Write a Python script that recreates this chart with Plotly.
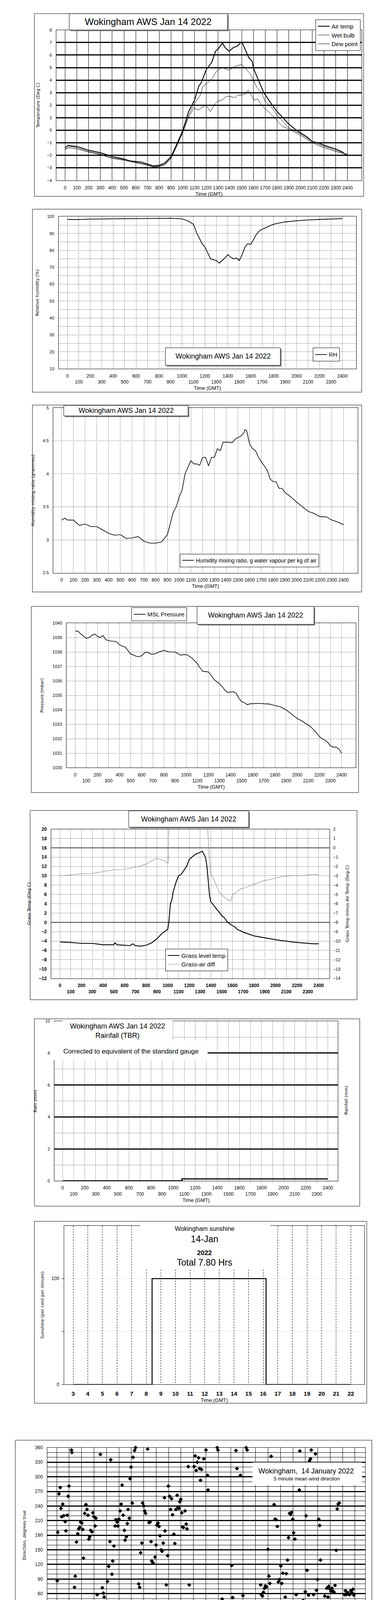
import plotly.graph_objects as go

# =========================== DATA ===========================
# Panel 1: temperatures (time in hours GMT -> deg C)
air_hours = [0.0, 0.25, 0.5, 1.0, 1.5, 2.0, 2.5, 3.0, 3.5, 4.0, 4.5, 5.0, 5.5, 6.0, 6.5, 7.0, 7.5, 8.0, 8.5, 9.0,
             9.3, 9.5, 10.0, 10.3, 10.5, 11.0, 11.35, 11.57, 12.0, 12.45, 12.78, 13.0, 13.37, 13.6, 13.94, 14.3, 14.6, 15.0, 15.23, 15.6,
             15.9, 16.0, 16.43, 16.88, 17.6, 18.0, 18.5, 19.0, 19.65, 20.0, 20.5, 21.0, 21.5, 22.0, 22.5, 23.0, 23.5, 23.9, 24.0]
air_temp = [-1.4, -1.2, -1.25, -1.3, -1.45, -1.6, -1.7, -1.8, -1.95, -2.1, -2.2, -2.3, -2.45, -2.5, -2.55, -2.7, -2.85, -2.8, -2.6, -2.1,
            -1.5, -1.1, 0.0, 0.9, 1.5, 2.4, 3.5, 3.8, 4.85, 5.4, 6.3, 6.5, 6.95, 6.6, 6.3, 6.6, 6.7, 7.05, 6.6, 5.8,
            5.5, 4.95, 4.0, 3.0, 2.0, 1.5, 1.0, 0.5, 0.0, -0.2, -0.5, -0.9, -1.0, -1.2, -1.35, -1.5, -1.7, -2.0, -1.9]
wet_hours = [0.0, 0.3, 1.0, 2.0, 3.0, 4.0, 5.0, 6.0, 7.0, 7.5, 8.0, 8.5, 9.0, 9.5, 10.0, 10.5, 10.96, 11.49, 11.7, 12.13,
             12.55, 12.78, 13.0, 13.35, 13.94, 14.45, 15.0, 15.3, 15.7, 16.0, 16.3, 16.7, 17.0, 17.5, 18.0, 18.5, 19.0, 20.0, 21.0, 22.0,
             23.0, 24.0]
wet_bulb = [-1.5, -1.3, -1.4, -1.7, -1.9, -2.2, -2.35, -2.55, -2.75, -2.9, -2.85, -2.7, -2.2, -1.2, -0.1, 1.2, 2.1, 2.8, 3.5, 3.8,
            4.2, 4.6, 4.8, 5.0, 4.8, 5.1, 5.25, 4.95, 4.55, 4.0, 3.4, 3.0, 2.3, 1.9, 1.2, 0.7, 0.2, -0.3, -0.9, -1.3,
            -1.6, -1.95]
dew_hours = [0.0, 0.3, 1.0, 2.0, 3.0, 4.0, 5.0, 6.0, 7.0, 7.5, 8.0, 8.5, 9.0, 9.5, 10.0, 10.47, 10.96, 11.28, 11.96, 12.34,
             12.66, 13.0, 13.36, 13.67, 13.95, 14.46, 14.65, 14.97, 15.31, 15.55, 15.83, 16.05, 16.37, 16.68, 17.0, 17.49, 18.0, 18.49, 19.0, 20.0,
             21.0, 22.0, 23.0, 24.0]
dew_point = [-1.55, -1.4, -1.5, -1.75, -1.95, -2.25, -2.4, -2.6, -2.8, -2.95, -2.9, -2.75, -2.25, -1.25, -0.2, 1.0, 1.8, 1.6, 2.0, 1.5,
             2.0, 2.35, 2.4, 2.7, 2.7, 2.6, 2.8, 2.8, 2.9, 3.2, 2.8, 2.4, 2.5, 2.0, 1.7, 1.3, 0.8, 0.3, 0.1, -0.4,
             -1.0, -1.4, -1.7, -1.95]

# Panel 2: relative humidity (%)
rh_hours = [0, 1, 2, 4, 6, 8, 9, 10, 10.5, 11, 11.3, 11.5, 11.75, 12, 12.25, 12.5, 12.75, 13, 13.25, 13.5,
            13.75, 14, 14.25, 14.5, 14.75, 15, 15.25, 15.5, 15.75, 16, 16.25, 16.5, 16.75, 17, 17.5, 18, 18.5, 19, 20, 21,
            22, 23, 24]
rh_values = [98.3, 98.2, 98.5, 98.7, 98.8, 98.9, 99.0, 98.6, 97.5, 95.5, 90, 87.5, 84, 82, 78.5, 75, 74.5, 74, 72.5, 74,
             75.5, 77.5, 76, 75, 75.5, 74, 77.5, 82, 84, 83.5, 86.5, 89.5, 91.5, 92.5, 94, 95.5, 96.2, 96.8, 97.5, 98,
             98.3, 98.5, 98.8]

# Panel 3: humidity mixing ratio (g/kg)
mix_hours = [0, 0.25, 0.5, 1, 1.5, 2, 2.5, 3, 3.5, 4, 4.5, 5, 5.5, 6, 6.5, 7, 7.5, 8, 8.5, 9,
             9.25, 9.5, 9.75, 10, 10.25, 10.5, 10.75, 11, 11.25, 11.5, 11.75, 12, 12.25, 12.5, 12.75, 13, 13.25, 13.5, 13.75, 14,
             14.25, 14.5, 14.75, 15, 15.25, 15.5, 15.6, 15.75, 16, 16.25, 16.5, 16.75, 17, 17.25, 17.5, 17.75, 18, 18.25, 18.5, 18.75,
             19, 19.5, 20, 20.5, 21, 21.5, 22, 22.5, 23, 23.5, 24]
mix_values = [3.3, 3.33, 3.3, 3.3, 3.22, 3.24, 3.2, 3.2, 3.15, 3.1, 3.07, 3.08, 3.02, 3.03, 3.05, 2.98, 2.95, 2.95, 2.97, 3.08,
              3.25, 3.42, 3.5, 3.65, 3.75, 4.0, 4.1, 4.2, 4.15, 4.15, 4.13, 4.25, 4.25, 4.12, 4.25, 4.25, 4.38, 4.35, 4.48, 4.48,
              4.48, 4.47, 4.52, 4.55, 4.57, 4.62, 4.67, 4.65, 4.45, 4.38, 4.35, 4.25, 4.18, 4.12, 4.05, 3.92, 3.88, 3.88, 3.78, 3.78,
              3.72, 3.65, 3.57, 3.5, 3.43, 3.4, 3.35, 3.35, 3.3, 3.27, 3.23]

# Panel 4: MSL pressure (mbar)
pres_hours = [0, 0.25, 0.5, 0.75, 1, 1.25, 1.5, 1.75, 2, 2.25, 2.5, 2.75, 3, 3.25, 3.5, 3.75, 4, 4.25, 4.5, 4.75,
              5, 5.25, 5.5, 5.75, 6, 6.25, 6.5, 6.75, 7, 7.25, 7.5, 7.75, 8, 8.25, 8.5, 8.75, 9, 9.25, 9.5, 9.75,
              10, 10.25, 10.5, 10.75, 11, 11.25, 11.5, 11.75, 12, 12.25, 12.5, 12.75, 13, 13.25, 13.5, 13.75, 14, 14.25, 14.5, 14.75,
              15, 15.25, 15.5, 15.75, 16, 16.5, 17, 17.5, 17.75, 18, 18.25, 18.5, 18.75, 19, 19.25, 19.5, 19.75, 20, 20.25, 20.5,
              20.75, 21, 21.25, 21.5, 21.75, 22, 22.25, 22.5, 22.75, 23, 23.25, 23.5, 23.75, 24]
pres_values = [1039.45, 1039.45, 1039.25, 1039.1, 1038.95, 1039.0, 1039.15, 1039.25, 1039.1, 1039.0,
               1039.15, 1038.85, 1038.8, 1038.75, 1038.75, 1038.7, 1038.5, 1038.4, 1038.35, 1038.1,
               1037.85, 1037.8, 1037.7, 1037.68, 1037.75, 1037.95, 1038.0, 1037.88, 1037.85, 1037.9,
               1038.0, 1038.05, 1038.12, 1038.05, 1038.0, 1038.0, 1038.0, 1037.9, 1037.78, 1037.82,
               1037.82, 1037.72, 1037.6, 1037.4, 1037.2, 1036.9, 1036.65, 1036.65, 1036.62, 1036.4,
               1036.1, 1035.95, 1035.8, 1035.6, 1035.35, 1035.2, 1035.22, 1035.25, 1035.15, 1034.8,
               1034.55, 1034.5, 1034.35, 1034.42, 1034.42, 1034.45, 1034.42, 1034.4, 1034.35, 1034.3,
               1034.25, 1034.2, 1034.1, 1034.0, 1033.85, 1033.7, 1033.55, 1033.4, 1033.3, 1033.2,
               1033.05, 1032.95, 1032.8, 1032.6, 1032.4, 1032.15, 1032.0, 1031.9, 1031.75, 1031.5,
               1031.42, 1031.42, 1031.3, 1031.0]

# Panel 5: grass temperature and grass-air difference (deg C)
grass_hours = [0, 1, 2, 3, 4, 5, 5.1, 5.3, 6, 6.5, 6.75, 7, 7.5, 8, 8.5, 9, 9.5, 9.75, 10, 10.1,
               10.25, 10.4, 10.5, 10.75, 11, 11.25, 11.5, 11.75, 12, 12.25, 12.5, 12.75, 13, 13.2, 13.4, 13.5, 13.64, 13.75, 13.87, 13.98,
               14.25, 14.5, 14.75, 15, 15.25, 15.5, 15.75, 16, 16.25, 16.5, 16.75, 17, 17.5, 18, 18.5, 19, 19.5, 20, 20.5, 21,
               21.5, 22, 22.5, 23, 23.5, 24]
grass_temp = [-4.2, -4.3, -4.5, -4.5, -4.8, -4.8, -4.4, -4.8, -4.9, -5.0, -4.6, -5.0, -5.1, -4.9, -4.4, -3.5, -2.3, -1.9, -1.5, 0.0,
              4.0, 5.0, 6.5, 8.5, 10.0, 10.3, 11.2, 12.0, 13.5, 14.0, 14.5, 14.8, 15.0, 15.3, 14.5, 14.0, 12.0, 9.0, 6.0, 4.5,
              3.7, 3.0, 2.2, 1.5, 1.0, 0.2, -0.3, -0.7, -1.0, -1.6, -1.8, -2.1, -2.5, -2.9, -3.1, -3.3, -3.5, -3.7, -3.9, -4.0,
              -4.2, -4.3, -4.4, -4.5, -4.6, -4.6]
diff_hours = [0, 1, 2, 3, 4, 5, 5.5, 6, 6.5, 7, 7.5, 8, 8.5, 9, 9.5, 9.75, 10, 10.05, 10.15, 11,
              12, 13, 13.6, 13.71, 13.85, 13.98, 14.25, 14.5, 14.75, 15, 15.25, 15.5, 15.75, 15.9, 16, 16.25, 16.5, 16.75, 17, 17.5,
              18, 18.5, 19, 19.5, 20, 20.5, 21, 21.5, 22, 22.5, 23, 23.5, 24]
grass_air_diff = [-3.0, -2.9, -2.8, -2.75, -2.55, -2.35, -2.35, -2.3, -2.2, -2.05, -1.95, -1.75, -1.4, -1.15, -1.3, -1.4, -1.7, -1.5, 6.0, 8.0,
                  8.5, 8.5, 6.0, 2.0, -1.0, -2.7, -3.3, -4.0, -4.7, -5.0, -5.3, -5.5, -5.7, -5.6, -5.0, -4.9, -4.6, -4.4, -4.35, -4.1,
                  -3.9, -3.7, -3.5, -3.4, -3.25, -3.1, -3.05, -3.0, -3.0, -3.0, -2.9, -2.85, -2.9]

# Panel 6: rainfall (mm)
rain_hours = [0.0, 10.8, 24.0]
rain_mm = [0.0, 0.12, 0.12]

# Panel 7: sunshine (per cent per minute)
sun_hours = [3.0, 8.4, 16.2, 22.0]
sun_pct = [0, 100, 0, 0]

# Panel 8: 5 minute mean wind direction (hour GMT, degrees true)
dir_points = [
    (0.04, 86.5), (0.08, 186), (0.18, 265), (0.28, 278), (0.34, 235), (0.40, 218), (0.48, 244), (0.56, 220), (0.68, 208), (0.74, 189),
    (0.84, 221), (0.92, 260), (0.98, 281), (1.08, 8), (1.18, 355), (1.22, 350), (1.35, 23), (1.43, 73), (1.49, 96), (1.59, 166),
    (1.69, 183), (1.77, 193), (1.85, 196), (1.93, 207), (2.01, 205), (2.09, 192), (2.15, 133), (2.25, 225), (2.35, 243), (2.43, 233),
    (2.51, 221), (2.59, 172), (2.65, 177), (2.73, 190), (2.83, 187), (2.91, 226), (2.99, 218), (3.09, 199), (3.15, 215), (3.25, 58),
    (3.33, 17), (3.41, 21), (3.51, 346), (3.59, 36), (3.67, 72), (3.75, 61), (3.82, 53), (3.92, 18), (4.00, 44), (4.08, 85),
    (4.18, 116), (4.28, 167), (4.34, 335), (4.44, 100), (4.50, 127), (4.60, 158), (4.70, 199), (4.76, 212), (4.86, 207), (4.92, 199),
    (5.00, 213), (5.10, 230), (5.18, 244), (5.26, 283), (5.34, 221), (5.44, 190), (5.50, 170), (5.60, 177), (5.68, 204), (5.74, 233),
    (5.84, 215), (5.90, 296), (5.98, 320), (6.08, 246), (6.14, 340), (6.26, 354), (6.34, 360), (6.43, 20), (6.51, 37), (6.59, 80),
    (6.67, 73), (6.75, 144), (6.85, 164), (6.91, 246), (7.01, 240), (7.07, 230), (7.15, 225), (7.27, 5), (7.31, 357), (7.43, 206),
    (7.51, 207), (7.59, 167), (7.65, 127), (7.75, 123), (7.77, 44), (7.91, 135), (7.99, 160), (8.07, 201), (8.15, 205), (8.23, 198),
    (8.31, 179), (8.41, 150), (8.47, 147), (8.57, 164), (8.67, 257), (8.71, 189), (8.82, 78), (8.92, 138), (8.98, 281), (9.08, 260),
    (9.16, 233), (9.24, 255), (9.32, 222), (9.42, 182), (9.50, 163), (9.59, 233), (9.69, 262), (9.76, 238), (9.84, 235), (9.90, 249),
    (9.98, 254), (10.06, 226), (10.12, 197), (10.20, 196), (10.32, 230), (10.42, 203), (10.48, 193), (10.58, 321), (10.66, 78), (10.74, 26),
    (10.82, 23), (10.90, 18), (11.00, 7), (11.06, 321), (11.14, 343), (11.22, 313), (11.30, 330), (11.41, 339), (11.49, 317), (11.57, 293),
    (11.65, 315), (11.77, 13), (11.83, 337), (11.91, 7), (12.01, 355), (12.13, 303), (12.17, 273), (12.25, 23), (12.33, 22), (12.41, 37),
    (12.49, 33), (12.57, 15), (12.67, 4), (12.73, 30), (12.83, 13), (12.91, 360), (12.97, 355), (13.05, 21), (13.15, 9), (13.23, 26),
    (13.31, 49), (13.41, 26), (13.49, 17), (13.57, 8), (13.65, 5), (13.71, 4), (13.82, 23), (13.88, 22), (14.00, 21), (14.08, 118),
    (14.16, 52), (14.26, 15), (14.34, 2), (14.42, 354), (14.50, 317), (14.58, 3), (14.66, 36), (14.78, 303), (14.84, 41), (14.90, 34),
    (14.98, 56), (15.04, 25), (15.14, 0), (15.24, 360), (15.32, 355), (15.38, 1), (15.46, 4), (15.54, 8), (15.64, 15), (15.70, 18),
    (15.78, 24), (15.86, 22), (15.98, 6), (16.06, 31), (16.14, 24), (16.22, 6), (16.30, 41), (16.41, 78), (16.47, 58), (16.55, 55),
    (16.63, 63), (16.71, 71), (16.79, 76), (16.87, 74), (16.99, 151), (17.07, 96), (17.15, 81), (17.25, 342), (17.31, 22), (17.41, 9),
    (17.49, 243), (17.57, 213), (17.65, 212), (17.75, 198), (17.83, 84), (17.91, 89), (18.03, 117), (18.11, 81), (18.19, 102), (18.31, 33),
    (18.39, 53), (18.47, 101), (18.57, 129), (18.65, 175), (18.73, 225), (18.81, 223), (18.90, 227), (18.99, 213), (19.06, 185), (19.16, 172),
    (19.26, 58), (19.34, 23), (19.42, 12), (19.52, 273), (19.56, 353), (19.66, 26), (19.74, 29), (19.82, 46), (19.90, 30), (20.00, 64),
    (20.06, 220), (20.14, 108), (20.26, 57), (20.34, 333), (20.42, 337), (20.48, 355), (20.58, 32), (20.66, 58), (20.72, 13), (20.82, 347),
    (20.90, 67), (20.98, 89), (21.08, 213), (21.16, 200), (21.22, 129), (21.33, 35), (21.41, 30), (21.49, 34), (21.57, 55), (21.67, 38),
    (21.73, 71), (21.83, 53), (21.89, 75), (21.99, 69), (22.07, 65), (22.15, 71), (22.23, 65), (22.31, 63), (22.39, 77), (22.49, 149),
    (22.57, 234), (22.65, 244), (22.73, 246), (22.85, 33), (22.91, 18), (22.99, 7), (23.05, 39), (23.15, 58), (23.23, 66), (23.31, 58),
    (23.41, 62), (23.49, 59), (23.57, 58), (23.65, 66), (23.75, 62), (23.83, 69), (23.91, 57),
]

# Panel 9: wind speed (knots)
speed_hours = [0, 0.5, 1, 1.5, 2, 2.5, 3, 3.5, 4, 4.5, 5, 5.5, 6, 6.5, 7, 7.5, 8, 8.5, 9, 9.5,
               10, 10.5, 11, 11.5, 12, 12.5, 13, 13.5, 14, 14.5, 15, 15.5, 16, 16.5, 17, 17.5, 18, 18.5, 19, 19.5,
               20, 20.5, 21, 21.5, 22, 22.25, 22.5, 22.75, 23, 23.25, 23.5, 23.75, 24]
speed_mean = [0.8, 1.2, 1.5, 1.0, 1.5, 0.8, 1.0, 0.4, 1.0, 0.8, 1.2, 1.4, 1.5, 1.1, 1.2, 0.3, 1.0, 0.8, 0.6, 1.3,
              1.2, 1.6, 0.6, 1.6, 1.9, 1.2, 1.5, 1.2, 2.3, 1.0, 0.6, 1.5, 2.5, 1.0, 0.3, 0.8, 0.4, 0.9, 0.5, 0.9,
              0.3, 1.2, 0.2, 0.8, 1.4, 3.2, 2.0, 0.5, 1.3, 2.2, 3.0, 2.8, 3.0]
speed_gust = [1.2, 2.0, 1.8, 1.5, 2.0, 1.5, 1.6, 1.0, 1.8, 1.5, 2.0, 2.2, 2.3, 2.0, 2.0, 1.0, 1.6, 1.5, 1.2, 2.0,
              2.0, 2.6, 1.5, 2.7, 3.2, 2.5, 2.8, 2.2, 3.5, 2.0, 1.5, 2.5, 3.5, 2.0, 1.0, 1.8, 1.2, 1.6, 1.3, 1.8,
              1.2, 2.2, 1.0, 1.6, 2.5, 4.3, 3.0, 1.5, 2.3, 3.5, 4.0, 4.5, 3.8]
# streaks of x10-scaled speeds: (first hour, last hour, values in time order)
speed10_groups = [
    (0.00, 0.08, [9.5, 8, 6.5, 5, 3.5, 2.5]), (0.10, 0.39, [7, 7.5, 8, 8.5]),
    (0.39, 0.72, [9, 10, 11, 12, 13, 14, 15, 15.8]), (0.78, 1.17, [14, 12, 11, 10, 8.5, 7, 5.8]),
    (1.17, 1.47, [14.5, 15.5, 13, 12, 11, 9, 8, 7.5]), (1.47, 1.76, [8, 9, 9.5, 10]),
    (1.76, 2.05, [12, 13, 14, 15, 16, 16.8]), (2.05, 2.35, [14, 12, 10, 8.5, 8, 7.5]),
    (2.35, 2.64, [7, 6, 5, 4, 3, 7.5]), (2.64, 2.93, [8, 13, 12, 10, 9]),
    (2.93, 3.23, [8, 7, 6, 4.5, 3, 2.2]), (3.23, 3.72, [9, 10, 8, 7, 6, 5.5, 9, 10]),
    (3.72, 4.11, [12, 14, 13, 11, 10, 8, 6.5]), (4.20, 4.50, [12, 10, 8, 5.5, 3.5, 0.3]),
    (4.50, 4.79, [11, 10, 11.5, 12]), (4.79, 5.18, [14, 16, 18, 19, 20, 21.5, 17, 15]),
    (5.18, 5.48, [12, 11, 10.5, 12]), (5.48, 5.87, [15, 16, 17, 18, 19.6, 14]),
    (5.87, 6.26, [12, 10, 8.5, 7, 9, 11, 17, 18]), (6.26, 6.65, [16, 17, 18.5, 15, 13, 11, 9.5]),
    (6.65, 7.14, [10, 11, 12, 14, 15.5, 17, 13, 11.5, 9]), (7.14, 7.43, [7, 6, 5, 4, 3, 2]),
    (7.43, 7.82, [9.5, 11, 12, 12.5, 11, 10, 8.5, 7, 6]), (7.82, 8.21, [9, 10, 11, 8, 6]),
    (8.21, 8.61, [5, 4, 3.5, 6.5, 8, 10, 11]), (8.70, 9.00, [7, 5.5, 4, 2.9, 5, 6]),
    (9.09, 9.49, [10, 12, 14, 16, 17.5, 18.5, 13, 11]), (9.49, 9.97, [10, 8, 6, 5, 4.5, 12, 13, 15, 15.5]),
    (9.97, 10.56, [14, 13, 12, 11, 14, 15.5, 16.5, 17.5, 15, 13]), (10.56, 10.95, [9, 7, 5, 3, 2, 11, 14, 15, 16, 18, 20]),
    (10.95, 11.34, [13, 12, 11, 9, 7, 5, 15, 16, 18, 19]), (11.34, 11.73, [17, 20.5, 18, 16, 14, 12]),
    (11.73, 12.13, [11, 10, 9, 8, 13, 14, 15, 17]), (12.13, 12.52, [10, 8.5, 7, 6, 12, 15, 19, 22.5, 21]),
    (12.52, 12.91, [17, 16, 15, 14, 10, 8, 6, 5]), (12.91, 13.30, [11, 12, 13, 14.5, 15, 18]),
    (13.30, 13.69, [13, 10, 9, 14, 16, 19, 21, 24, 25.5]), (13.69, 14.08, [23, 22, 20, 18, 16, 14]),
    (14.08, 14.47, [11, 10, 9, 8, 12, 13, 14]), (14.47, 14.96, [10, 9, 8, 6, 4.5, 3.5, 12, 13]),
    (14.96, 15.45, [10, 11, 12, 13, 14, 10, 9, 15, 17, 19, 21]), (15.45, 15.94, [22, 23, 24, 25, 25.5, 22.5, 20.5, 18.5, 16.5, 14]),
    (15.94, 16.43, [12, 11, 10, 9, 8, 7, 6, 5, 4.5, 13]), (16.43, 16.92, [12, 11, 10, 9, 8, 7, 6, 5, 4, 3, 2.5]),
    (16.92, 17.41, [5, 6, 4, 3, 2.5, 6, 5, 4, 3]), (17.41, 17.90, [10, 11, 12, 13, 15, 11, 9, 7, 6, 5]),
    (17.90, 18.38, [16.5, 15, 13, 12, 11, 10, 9]), (18.38, 18.87, [12, 11, 10, 8, 7, 13, 14, 11, 10, 9]),
    (18.87, 19.46, [12, 13, 11, 10, 8, 7, 5, 3, 2, 4, 6]), (19.46, 19.95, [10, 11, 12, 13, 14, 15, 13]),
    (19.95, 20.44, [10, 9, 8, 6, 4, 3, 2, 8, 9, 10]), (20.44, 20.93, [9, 7, 6, 5, 4, 3, 2, 5, 6]),
    (20.93, 21.42, [8, 7, 6, 5, 4, 3, 2, 12, 13, 14]), (21.42, 21.90, [13, 12, 11, 10, 12, 11, 14, 15]),
    (21.90, 22.26, [16, 18, 19.5, 21, 23, 25, 27, 29, 31, 33.5, 32]), (22.30, 22.69, [30, 28, 26, 24, 22, 20, 18, 16, 14, 12.5, 10]),
    (22.69, 23.08, [8, 6, 5, 4, 3, 2.5, 9, 8, 6, 10]), (23.08, 23.47, [12, 13, 11, 10.5, 16, 19, 21, 23, 25, 27, 29, 30, 31, 32]),
    (23.47, 24.06, [33, 31, 29, 27, 25, 23, 21, 19, 18, 20, 22, 26, 28, 30, 32, 31, 29, 27]),
]

# Tick labels
hour_ticks = list(range(25))
hhmm_labels = ["0", "100", "200", "300", "400", "500", "600", "700", "800", "900", "1000", "1100", "1200",
               "1300", "1400", "1500", "1600", "1700", "1800", "1900", "2000", "2100", "2200", "2300", "2400"]
hour_labels = [str(h) for h in hour_ticks]
clock_ticks = list(range(24))
clock_labels = ["00:00", "01:00", "02:00", "03:00", "04:00", "05:00", "06:00", "07:00", "08:00", "09:00", "10:00", "11:00",
                "12:00", "13:00", "14:00", "15:00", "16:00", "17:00", "18:00", "19:00", "20:00", "21:00", "22:00", "23:00"]
sun_ticks = list(range(3, 23))
sun_labels = [str(h) for h in sun_ticks]

# =========================== LAYOUT HELPERS ===========================
FW, FH = 1000, 5000
SANS = "Liberation Sans, Arial, Helvetica, sans-serif"
WIDE = "DejaVu Sans, Verdana, sans-serif"
BLACK = "black"
DOT = "1px,2px"
DASH = "4px,3px"


def fx(v):
    return v / FW


def fy(v):
    return 1 - v / FH


def sid(n):
    return "" if n == 1 else str(n)


# panel frames / plot areas in pixels (x0, y0, x1, y1) and x ranges in hours
P = {
    1: dict(box=(80, 20, 922, 489), plot=(136, 62, 917, 448), xr=(-0.75, 25.2)),
    2: dict(box=(75, 522, 917, 992), plot=(142, 541, 903, 932), xr=(-0.76, 25.2)),
    3: dict(box=(75, 1025, 917, 1505), plot=(128, 1032, 907, 1456), xr=(-0.72, 25.2)),
    4: dict(box=(72, 1542, 909, 2020), plot=(162, 1585, 902, 1956), xr=(-0.79, 25.28)),
    5: dict(box=(69, 2066, 905, 2552), plot=(123, 2114, 835, 2497), xr=(-0.81, 25.02)),
    6: dict(box=(80, 2601, 912, 3082), plot=(131, 2607, 856, 3017), xr=(-0.75, 24.9)),
    7: dict(box=(80, 3121, 930, 3588), plot=(156, 3132, 924, 3540), xr=(2.38, 22.93)),
    8: dict(box=(31, 3683, 943, 4199), plot=(113, 3702, 926, 4152), xr=(-0.76, 24.82)),
    9: dict(box=(32, 4233, 944, 4728), plot=(91, 4276, 939, 4656), xr=(-0.74, 25.28)),
}


def font(size, family=SANS, weight="normal", color=BLACK):
    return dict(family=family, size=size, color=color, weight=weight)


def two_rows(labels):
    return [t if i % 2 == 0 else "<br>" + t for i, t in enumerate(labels)]


def x_axis(n, tickvals, ticktext, dash=DOT, tfont=None, lbl_off=7, title="Time (GMT)", t_off=4):
    x0, y0, x1, y1 = P[n]["plot"]
    d = dict(domain=[fx(x0), fx(x1)], anchor="y" + sid(n), range=list(P[n]["xr"]),
             tickmode="array", tickvals=tickvals, ticktext=ticktext, tickangle=0,
             showgrid=True, gridcolor=BLACK, gridwidth=1, griddash=dash,
             showline=True, mirror=True, linecolor=BLACK, linewidth=1,
             zeroline=False, ticks="", tickfont=tfont or font(12),
             ticklabelstandoff=lbl_off, fixedrange=True)
    if title:
        d["title"] = dict(text=title, font=font(13), standoff=t_off)
    return d


def y_axis(n, yr, title, dtick=None, tickvals=None, ticktext=None, dash=DOT, gwidth=1,
           gcolor=BLACK, minor=None, tfont=None, lbl_off=8, t_off=14):
    x0, y0, x1, y1 = P[n]["plot"]
    d = dict(domain=[fy(y1), fy(y0)], anchor="x" + sid(n), range=list(yr),
             showgrid=True, gridcolor=gcolor, gridwidth=gwidth, griddash=dash,
             showline=True, mirror=True, linecolor=BLACK, linewidth=1,
             zeroline=False, ticks="", tickfont=tfont or font(11),
             ticklabelstandoff=lbl_off, fixedrange=True,
             title=dict(text=title, font=font(11, WIDE), standoff=t_off))
    if tickvals is not None:
        d.update(tickmode="array", tickvals=tickvals, ticktext=ticktext)
    else:
        d.update(tickmode="linear", tick0=yr[0], dtick=dtick)
    if minor:
        d["minor"] = minor
    return d


def dotted_minor(step):
    return dict(dtick=step, showgrid=True, gridcolor=BLACK, griddash=DOT, gridwidth=1, ticks="")


def legend_box(x, y, size, anchor="left", orientation="v"):
    return dict(x=fx(x), y=fy(y), xanchor=anchor, yanchor="top", xref="paper", yref="paper",
                bgcolor="white", bordercolor=BLACK, borderwidth=1, font=font(size),
                orientation=orientation, itemwidth=30, tracegroupgap=0)


# =========================== TRACES ===========================
traces = []


def line(n, x, y, name, width=1.0, color=BLACK, legend=None, yaxis=None, shape="linear", show=True):
    return go.Scatter(x=x, y=y, mode="lines", name=name, xaxis="x" + sid(n), yaxis=yaxis or ("y" + sid(n)),
                      line=dict(color=color, width=width, shape=shape), legend=legend or "legend",
                      showlegend=show, hoverinfo="skip")


traces.append(line(1, air_hours, air_temp, "Air temp", 2.2))
traces.append(line(1, wet_hours, wet_bulb, "Wet bulb", 1.0))
traces.append(line(1, dew_hours, dew_point, "Dew point", 1.0))
traces.append(line(2, rh_hours, rh_values, "RH", 1.8, legend="legend2"))
traces.append(line(3, mix_hours, mix_values, "Humidity mixing ratio, g water vapour per kg of air", 1.6, legend="legend3"))
traces.append(line(4, pres_hours, pres_values, "MSL Pressure", 1.6, legend="legend4"))
traces.append(line(5, grass_hours, grass_temp, "Grass level temp", 2.2, legend="legend5"))
traces.append(line(5, diff_hours, grass_air_diff, "Grass-air diff", 1.2, color="#8a8a8a", legend="legend5", yaxis="y10"))
traces.append(line(6, rain_hours, rain_mm, "Rain", 3.0, shape="hv", show=False))
traces.append(line(7, sun_hours, sun_pct, "Sunshine", 2.5, shape="hv", show=False))

traces.append(go.Scatter(x=[p[0] for p in dir_points], y=[p[1] for p in dir_points], mode="markers",
                         xaxis="x8", yaxis="y8", showlegend=False, cliponaxis=False, hoverinfo="skip",
                         marker=dict(symbol="diamond", size=8, color=BLACK)))

s10_x, s10_y = [], []
for h0, h1, vals in speed10_groups:
    n_v = len(vals)
    for i, v in enumerate(vals):
        s10_x.append(h0 + (h1 - h0) * i / (n_v - 1) if n_v > 1 else h0)
        s10_y.append(v)

traces.append(line(9, speed_hours, speed_gust, "Gust", 1.0, color="#7a7a7a", show=False))
traces.append(go.Scatter(x=s10_x, y=s10_y, mode="markers", name="Speed / 10", xaxis="x9", yaxis="y9",
                         legend="legend6", hoverinfo="skip", cliponaxis=False, legendrank=2,
                         marker=dict(symbol="diamond", size=9, color="#c8c8c8", line=dict(color="#3a3a3a", width=0.8))))
mean_trace = line(9, speed_hours, speed_mean, "Speed x 1", 1.6, color="#202020", legend="legend6")
mean_trace.legendrank = 1
traces.append(mean_trace)

# =========================== LAYOUT ===========================
layout = dict(width=FW, height=FH, margin=dict(l=0, r=0, t=0, b=0, pad=0),
              paper_bgcolor="white", plot_bgcolor="white", hovermode=False,
              font=font(12), showlegend=True)

hh1 = hhmm_labels
hh2 = two_rows(hhmm_labels)

layout["xaxis"] = x_axis(1, hour_ticks, hh1, dash="solid", lbl_off=8)
layout["yaxis"] = y_axis(1, (-4, 8), "Temperature (Deg C)", dtick=1, dash="solid", gwidth=2.5, t_off=16)

layout["xaxis2"] = x_axis(2, hour_ticks, hh2)
layout["yaxis2"] = y_axis(2, (10, 100), "Relative humidity (%)", dtick=10, minor=dotted_minor(5), t_off=18)

layout["xaxis3"] = x_axis(3, hour_ticks, hh1)
layout["yaxis3"] = y_axis(3, (2.5, 5), "Humidity mixing ratio (grammes)", dtick=0.5, t_off=18)

layout["xaxis4"] = x_axis(4, hour_ticks, hh2)
layout["yaxis4"] = y_axis(4, (1030, 1040), "Pressure (mbar)", dtick=1, t_off=20)

layout["xaxis5"] = x_axis(5, hour_ticks, hh2, tfont=font(12, weight="bold"), title=None)
layout["yaxis5"] = y_axis(5, (-12, 20), "Grass Temp (Deg C)", dtick=2, tfont=font(12, weight="bold"), t_off=18)
layout["yaxis10"] = dict(overlaying="y5", side="right", anchor="x5", range=[-14, 2], tickmode="linear", tick0=-14,
                         dtick=1, showgrid=False, zeroline=False, showline=False, ticks="", tickfont=font(11),
                         ticklabelstandoff=8, fixedrange=True,
                         title=dict(text="Grass Temp minus Air Temp (Deg C)", font=font(11, WIDE), standoff=14))

layout["xaxis6"] = x_axis(6, hour_ticks, hh2)
layout["yaxis6"] = y_axis(6, (0, 10), "Rain (mm)", dtick=2, dash="solid", gwidth=2.5, minor=dotted_minor(1), t_off=18)

layout["xaxis7"] = x_axis(7, sun_ticks, sun_labels, dash=DASH, tfont=font(15, weight="bold"), lbl_off=10)
y7 = y_axis(7, (0, 150), "Sunshine (per cent per minute)", tickvals=[0, 50, 100], ticktext=["0", "", "100"],
            gcolor="#a8a8a8", dash=DOT, t_off=16, tfont=font(12))
y7.update(ticks="outside", ticklen=5, tickcolor=BLACK, ticklabelstandoff=4)
layout["yaxis7"] = y7

layout["xaxis8"] = x_axis(8, hour_ticks, hour_labels, dash="solid", lbl_off=5)
layout["yaxis8"] = y_axis(8, (0, 360), "Direction, degrees true", dtick=30, dash="solid", gwidth=2.5,
                          minor=dict(dtick=10, showgrid=True, gridcolor=BLACK, griddash="solid", gridwidth=1, ticks=""),
                          tfont=font(12), t_off=20)

layout["xaxis9"] = x_axis(9, clock_ticks, two_rows(clock_labels))
layout["yaxis9"] = y_axis(9, (0, 50), "Speed (knots)", dtick=10, minor=dotted_minor(5), tfont=font(13), t_off=20)

layout["legend"] = legend_box(914, 35, 15, anchor="right")
layout["legend2"] = legend_box(861, 878, 15, anchor="right")
layout["legend3"] = legend_box(808, 1407, 14, anchor="right")
layout["legend4"] = legend_box(470, 1545, 15, anchor="right")
layout["legend5"] = legend_box(415, 2421, 15)
layout["legend6"] = legend_box(939, 4239, 11, anchor="right", orientation="h")

# ---- shapes: panel frames, title boxes with shadows, masks, reference lines
shapes = []


def rect(x0, y0, x1, y1, fill="rgba(0,0,0,0)", line_color=BLACK, lw=1, layer="above"):
    return dict(type="rect", xref="paper", yref="paper", x0=fx(x0), x1=fx(x1), y0=fy(y1), y1=fy(y0),
                fillcolor=fill, line=dict(color=line_color, width=lw), layer=layer)


for spec in P.values():
    shapes.append(rect(*spec["box"], layer="below"))

# white masks where the original hides the grid behind text
for m in [(129, 2609, 434, 2707), (152, 2604, 434, 2610), (434, 2658, 523, 2707),
          (351, 3130, 683, 3244), (638, 3740, 918, 3798), (102, 4273, 440, 4279)]:
    shapes.append(rect(*m, fill="white", line_color="white", lw=0))

title_boxes = [(169, 20, 574, 62), (415, 878, 709, 923), (155, 1026, 473, 1053),
               (496, 1542, 795, 1588), (321, 2067, 628, 2109)]
for (x0, y0, x1, y1) in title_boxes:
    shapes.append(rect(x0 + 3, y0 + 3, x1 + 3, y1 + 3, fill="#808080", line_color="#808080", lw=0))
    shapes.append(rect(x0, y0, x1, y1, fill="white"))

for yv in (0, 16):
    shapes.append(dict(type="line", xref="x5 domain", yref="y5", x0=0, x1=1, y0=yv, y1=yv,
                       line=dict(color=BLACK, width=1.5), layer="below"))

layout["shapes"] = shapes


# ---- annotations (text)
def text(x, y, s, size, weight="normal", angle=0, family=SANS):
    return dict(x=fx(x), y=fy(y), xref="paper", yref="paper", text=s, showarrow=False,
                xanchor="center", yanchor="middle", textangle=angle, font=font(size, family, weight))


TITLE = "Wokingham AWS Jan 14 2022"
layout["annotations"] = [
    text(371, 41, TITLE, 24),
    text(562, 900, TITLE, 18),
    text(314, 1039, TITLE, 18),
    text(645, 1565, TITLE, 18),
    text(474, 2088, TITLE, 18),
    text(292, 2620, TITLE, 18),
    text(292, 2644, "Rainfall (TBR)", 18),
    text(327, 2685, "Corrected to equivalent of the standard gauge", 17),
    text(878, 2810, "Rainfall (mm)", 11, angle=-90, family=WIDE),
    text(515, 3140, "Wokingham sunshine", 16),
    text(515, 3166, "14-Jan", 23),
    text(515, 3202, "2022", 17, weight="bold"),
    text(515, 3227, "Total 7.80 Hrs", 23),
    text(775, 3762, "Wokingham,\u00a0 14 January 2022", 18),
    text(776, 3782, "5 minute mean wind direction", 13),
    text(272, 4255, "Wokingham,\u00a0 14 January 2022", 18),
    text(568, 4246, "Wind speed, 10 min mean / max gust", 13),
    text(568, 4263, "Speeds below 4 kt shown at x10 scale", 13),
]

fig = go.Figure(data=traces, layout=layout)
fig.write_html("out.html")
